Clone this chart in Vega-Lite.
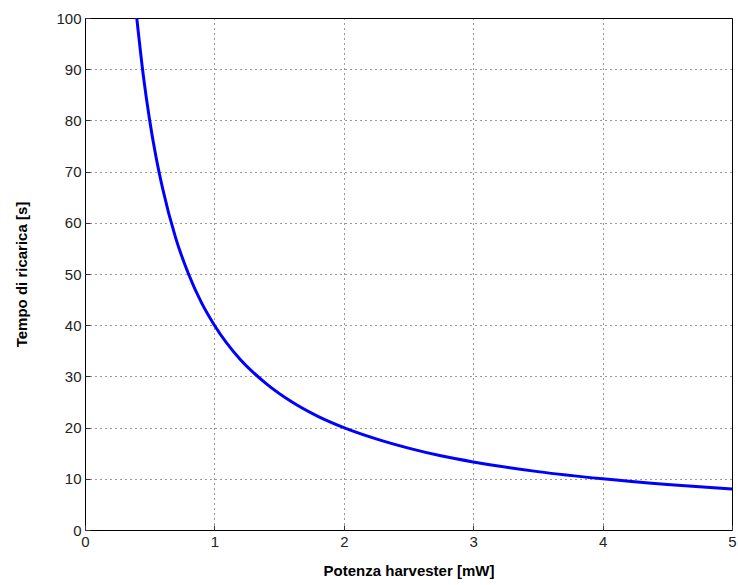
{
  "$schema": "https://vega.github.io/schema/vega-lite/v6.json",
  "autosize": "none",
  "width": 647,
  "height": 512,
  "padding": {"left": 85, "top": 18, "right": 6, "bottom": 55},
  "background": "white",
  "config": {
    "view": {"stroke": "black", "strokeWidth": 1},
    "font": "Liberation Sans"
  },
  "data": {
    "values": [
      {"p": 0.4, "t": 100},
      {"p": 0.45, "t": 88.9},
      {"p": 0.5, "t": 80},
      {"p": 0.55, "t": 72.7},
      {"p": 0.6, "t": 66.7},
      {"p": 0.7, "t": 57.1},
      {"p": 0.8, "t": 50},
      {"p": 0.9, "t": 44.4},
      {"p": 1.0, "t": 40},
      {"p": 1.2, "t": 33.3},
      {"p": 1.4, "t": 28.6},
      {"p": 1.6, "t": 25},
      {"p": 1.8, "t": 22.2},
      {"p": 2.0, "t": 20},
      {"p": 2.25, "t": 17.8},
      {"p": 2.5, "t": 16},
      {"p": 2.75, "t": 14.5},
      {"p": 3.0, "t": 13.3},
      {"p": 3.5, "t": 11.4},
      {"p": 4.0, "t": 10},
      {"p": 4.5, "t": 8.9},
      {"p": 5.0, "t": 8}
    ]
  },
  "layer": [
    {
      "mark": {"type": "line", "color": "#0000ff", "strokeWidth": 3, "interpolate": "monotone", "clip": true},
      "encoding": {
        "x": {
          "field": "p", "type": "quantitative",
          "scale": {"domain": [0, 5], "nice": false, "zero": false},
          "axis": {
            "title": "Potenza harvester [mW]",
            "values": [0, 1, 2, 3, 4, 5],
            "format": "d",
            "grid": true,
            "gridColor": "#000000",
            "gridDash": [1, 4],
            "gridOpacity": 0.8,
            "domain": false,
            "tickSize": -5,
            "tickColor": "#333333",
            "labelFontSize": 15,
            "labelColor": "#222222",
            "labelPadding": 9,
            "titleFontSize": 15,
            "titleFontWeight": "bold",
            "titleColor": "#000000",
            "titlePadding": 14,
            "labelFlush": false
          }
        },
        "y": {
          "field": "t", "type": "quantitative",
          "scale": {"domain": [0, 100], "nice": false},
          "axis": {
            "title": "Tempo di ricarica [s]",
            "values": [0, 10, 20, 30, 40, 50, 60, 70, 80, 90, 100],
            "grid": true,
            "gridColor": "#000000",
            "gridDash": [1, 4],
            "gridOpacity": 0.8,
            "domain": false,
            "tickSize": -5,
            "tickColor": "#333333",
            "labelFontSize": 15,
            "labelColor": "#222222",
            "labelPadding": 9,
            "titleFontSize": 15,
            "titleFontWeight": "bold",
            "titleColor": "#000000",
            "titlePadding": 26,
            "labelFlush": false
          }
        }
      }
    }
  ]
}
